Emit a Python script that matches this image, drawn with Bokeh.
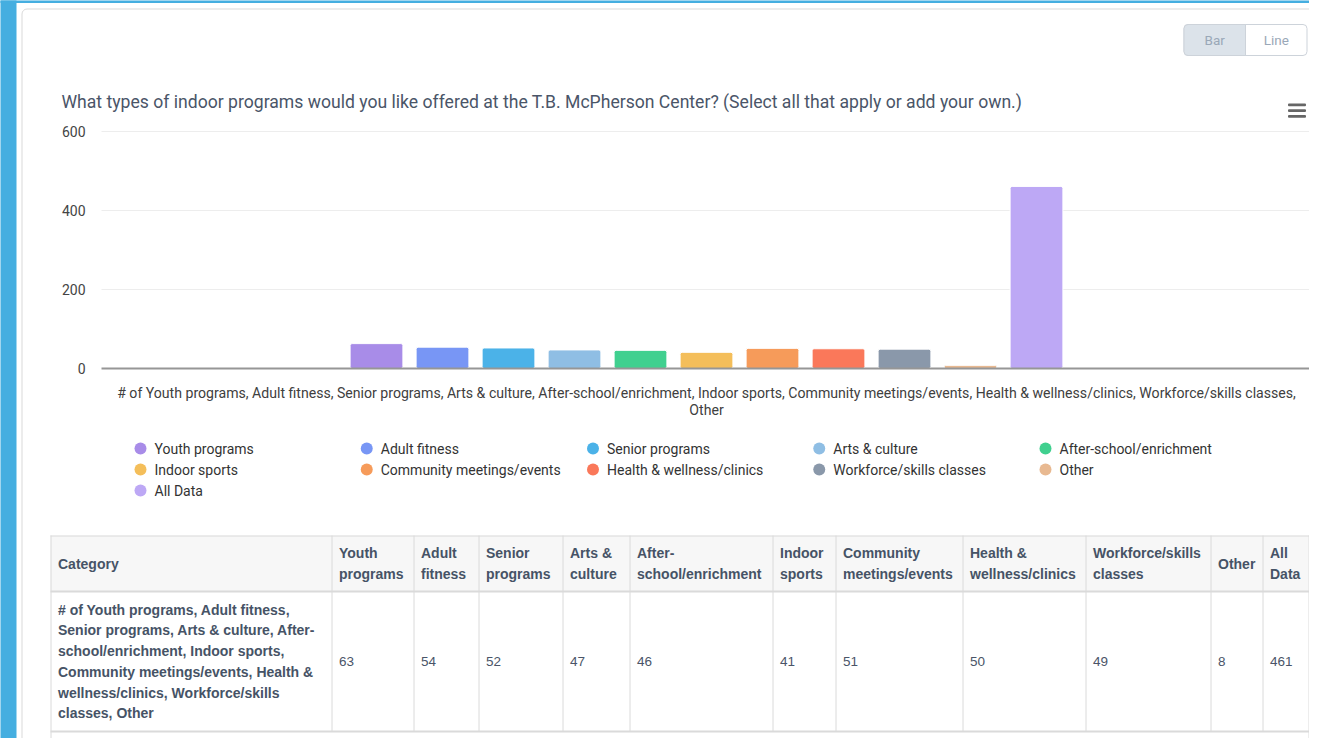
from bokeh.plotting import figure
from bokeh.models import Range1d, ColumnDataSource
from bokeh.core.properties import value
from bokeh.embed import file_html
from bokeh.resources import INLINE

# ---------------- data ----------------
title_text = ("What types of indoor programs would you like offered at the T.B. McPherson Center? "
              "(Select all that apply or add your own.)")
category = ("# of Youth programs, Adult fitness, Senior programs, Arts & culture, After-school/enrichment, "
            "Indoor sports, Community meetings/events, Health & wellness/clinics, Workforce/skills classes, Other")
series = ["Youth programs", "Adult fitness", "Senior programs", "Arts & culture",
          "After-school/enrichment", "Indoor sports", "Community meetings/events",
          "Health & wellness/clinics", "Workforce/skills classes", "Other", "All Data"]
counts = [63, 54, 52, 47, 46, 41, 51, 50, 49, 8, 461]
colors = ["#A88CE8", "#7896F5", "#4BB2E8", "#8FBEE4", "#40D08F", "#F4BE5A",
          "#F69B5A", "#FA785A", "#8A98AA", "#E8B991", "#BDA8F5"]
y_ticks = [0, 200, 400, 600]
table_first_header = "Category"
button_labels = ["Bar", "Line"]

# ---------------- layout ----------------
W, H = 1309, 738
PLOT_L, PLOT_R = 101, 1311     # plot area (canvas px)
Y_ZERO, Y_TOP = 368, 131       # canvas y of 0 and of the top tick
CHART_FONT = value("Roboto")
TABLE_FONT = value("Liberation Sans")

p = figure(width=W, height=H, output_backend="svg", toolbar_location=None,
           x_range=Range1d(0, W), y_range=Range1d(H, 0),
           x_axis_location=None, y_axis_location=None,
           min_border=0, min_border_left=0, min_border_right=0,
           min_border_top=0, min_border_bottom=0)
p.grid.visible = False
p.outline_line_color = None
p.background_fill_color = "white"
p.border_fill_color = "white"

k = (Y_ZERO - Y_TOP) / max(y_ticks)
p.extra_y_ranges = {"val": Range1d(start=(Y_ZERO - H) / k, end=Y_ZERO / k)}
cw = PLOT_R - PLOT_L
p.extra_x_ranges = {"cat": Range1d(start=-0.5 - PLOT_L / cw, end=0.5 + (W - PLOT_R) / cw)}

# page background pieces
p.quad(left=-2, right=16, top=-2, bottom=H + 2, fill_color="#45AEE0", line_color=None)
p.quad(left=-2, right=W + 2, top=-2, bottom=2.5, fill_color="#45AEE0", line_color=None)
p.quad(left=21.5, right=W + 40, top=8.5, bottom=H + 60, fill_color="white",
       line_color="#D9D9D9", line_width=1, border_radius=5)

# buttons
bx0, bx1, bmid, by0, by1 = 1183.5, 1306.5, 1245, 24, 55
p.quad(left=bx0, right=bx1, top=by0, bottom=by1, fill_color="white",
       line_color="#CDD3DA", line_width=1, border_radius=4)
p.quad(left=bx0, right=bmid, top=by0, bottom=by1, fill_color="#DCE3EA",
       line_color="#CDD3DA", line_width=1, border_radius=(4, 0, 0, 4))
p.text(x=[(bx0 + bmid) / 2, (bmid + bx1) / 2], y=[(by0 + by1) / 2] * 2, text=button_labels,
       text_font=CHART_FONT, text_font_size="13.5px", text_color="#9AA8B8",
       text_align="center", text_baseline="middle")

# hamburger menu
for yy in [103, 108.7, 114.4]:
    p.quad(left=1287.5, right=1305.5, top=yy, bottom=yy + 2.8, fill_color="#666666",
           line_color=None, border_radius=1)

# title
p.text(x=[61], y=[101], text=[title_text], text_font=CHART_FONT, text_font_size="17.6px",
       text_color="#4A5568", text_align="left", text_baseline="middle")

# grid lines
grid_vals = [t for t in y_ticks if t != 0]
p.segment(x0=[-0.5] * len(grid_vals), x1=[0.5] * len(grid_vals), y0=grid_vals, y1=grid_vals,
          x_range_name="cat", y_range_name="val", line_color="#EDEDED", line_width=1)

# bars
n = len(series)
group_pad, point_pad = 0.2, 0.1
slot = (1 - 2 * group_pad) / n
xs = [-0.5 + group_pad + (i + 0.5) * slot for i in range(n)]
src = ColumnDataSource(dict(x=xs, top=counts, color=colors, name=series))
p.vbar(x="x", top="top", bottom=0, width=slot * (1 - 2 * point_pad), source=src,
       fill_color="color", line_color="white", line_width=1, border_radius=2,
       x_range_name="cat", y_range_name="val")

# baseline (x axis line)
p.segment(x0=[-0.5], x1=[0.5], y0=[0], y1=[0], x_range_name="cat", y_range_name="val",
          line_color="#969696", line_width=2)

# y tick labels
p.text(x=[85] * len(y_ticks), y=y_ticks, text=[str(t) for t in y_ticks], y_range_name="val",
       text_font=CHART_FONT, text_font_size="14px", text_color="#444444",
       text_align="right", text_baseline="middle")

# category label (wrapped)
cat_lines = category.rsplit(" ", 1)
p.text(x=[0] * len(cat_lines), y=[392 + 17 * i for i in range(len(cat_lines))], text=cat_lines,
       x_range_name="cat", text_font=CHART_FONT, text_font_size="14.1px", text_color="#404040",
       text_align="center", text_baseline="middle")

# legend
leg_x = [140 + (i % 5) * 226.25 for i in range(n)]
leg_y = [448 + (i // 5) * 21 for i in range(n)]
p.scatter(x=leg_x, y=leg_y, size=12, marker="circle", fill_color=colors, line_color=None)
p.text(x=[x + 14 for x in leg_x], y=leg_y, text=series, text_font=CHART_FONT,
       text_font_size="14px", text_color="#333333", text_align="left", text_baseline="middle")

# ---------------- table ----------------
def wrap(text, max_chars):
    pieces = []
    for w in text.split(" "):
        parts = w.split("-")
        for j, part in enumerate(parts):
            tok = part + ("-" if j < len(parts) - 1 else "")
            pieces.append((tok, " " if j == 0 else ""))
    lines, cur = [], ""
    for tok, sep in pieces:
        if not cur:
            cur = tok
        elif len(cur) + len(sep) + len(tok) <= max_chars:
            cur += sep + tok
        else:
            lines.append(cur)
            cur = tok
    lines.append(cur)
    return lines

col_edges = [50, 331, 413, 478, 562, 629, 772, 835, 962, 1085, 1210, 1262, 1308]
T_TOP, T_HEAD, T_BOT = 535, 591, 731
CHAR_W, PAD, LINE_H = 6.7, 8, 20.7
TXT = 7.5

p.quad(left=col_edges[0], right=col_edges[-1], top=T_TOP, bottom=T_HEAD,
       fill_color="#F7F7F7", line_color=None)
# vertical borders
p.segment(x0=[e + 0.5 for e in col_edges], x1=[e + 0.5 for e in col_edges],
          y0=[T_TOP] * len(col_edges), y1=[T_BOT] * len(col_edges),
          line_color="#DADADA", line_width=1)
p.segment(x0=[col_edges[0] + 0.5, col_edges[-1] + 0.5], x1=[col_edges[0] + 0.5, col_edges[-1] + 0.5],
          y0=[T_BOT, T_BOT], y1=[H + 5, H + 5], line_color="#DADADA", line_width=1)
# horizontal borders
p.segment(x0=[col_edges[0]] * 3, x1=[col_edges[-1] + 1] * 3, y0=[T_TOP + 0.5, T_HEAD, T_BOT],
          y1=[T_TOP + 0.5, T_HEAD, T_BOT], line_color="#DADADA", line_width=[1, 2, 2])

headers = [table_first_header] + series
hx, hy, ht = [], [], []
for c, label in enumerate(headers):
    width = col_edges[c + 1] - col_edges[c]
    lines = wrap(label, int((width - 2 * PAD) / CHAR_W))
    mid = (T_TOP + T_HEAD) / 2
    for j, ln in enumerate(lines):
        hx.append(col_edges[c] + TXT)
        hy.append(mid + (j - (len(lines) - 1) / 2) * LINE_H)
        ht.append(ln)
p.text(x=hx, y=hy, text=ht, text_font=TABLE_FONT, text_font_style="bold", text_font_size="14px",
       text_color="#465366", text_align="left", text_baseline="middle")

body_mid = (T_HEAD + T_BOT) / 2
first_lines = wrap(category, int((col_edges[1] - col_edges[0] - 2 * PAD) / CHAR_W))
p.text(x=[col_edges[0] + TXT] * len(first_lines),
       y=[body_mid + (j - (len(first_lines) - 1) / 2) * LINE_H for j in range(len(first_lines))],
       text=first_lines, text_font=TABLE_FONT, text_font_style="bold", text_font_size="14px",
       text_color="#465366", text_align="left", text_baseline="middle")
p.text(x=[col_edges[c + 1] + TXT for c in range(n)], y=[body_mid] * n,
       text=[str(v) for v in counts], text_font=TABLE_FONT, text_font_size="13.5px",
       text_color="#4A5568", text_align="left", text_baseline="middle")

open("out.html", "w").write(file_html(p, INLINE))
